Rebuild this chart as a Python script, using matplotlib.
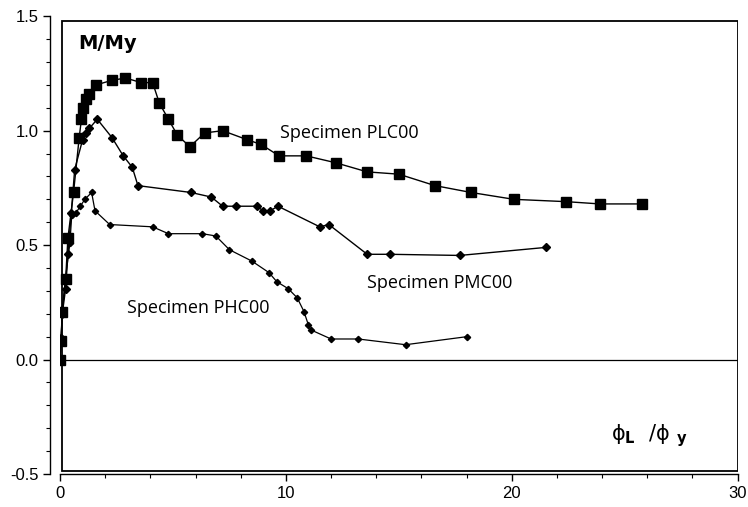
import matplotlib
matplotlib.use("Agg")
import matplotlib.pyplot as plt
from matplotlib.patches import Rectangle
from matplotlib.ticker import MultipleLocator

# Specimen PLC00 (squares)
plc_x = [0.0, 0.05, 0.1, 0.25, 0.35, 0.6, 0.85, 0.95, 1.0, 1.15, 1.3, 1.6, 2.3, 2.9,
         3.6, 4.1, 4.4, 4.8, 5.2, 5.75, 6.4, 7.2, 8.3, 8.9, 9.7, 10.9, 12.2, 13.6,
         15.0, 16.6, 18.2, 20.1, 22.4, 23.9, 25.75]
plc_y = [0.0, 0.08, 0.21, 0.35, 0.53, 0.73, 0.97, 1.05, 1.10, 1.14, 1.16, 1.20, 1.22, 1.23,
         1.21, 1.21, 1.12, 1.05, 0.98, 0.93, 0.99, 1.0, 0.96, 0.94, 0.89, 0.89, 0.86, 0.82,
         0.81, 0.76, 0.73, 0.70, 0.69, 0.68, 0.68]

# Specimen PMC00 (diamonds)
pmc_x = [0.0, 0.05, 0.1, 0.25, 0.35, 0.5, 0.65, 1.0, 1.15, 1.3, 1.65, 2.3, 2.8, 3.2,
         3.45, 5.8, 6.7, 7.2, 7.8, 8.7, 9.0, 9.3, 9.65, 11.5, 11.9, 13.6, 14.6, 17.7, 21.5]
pmc_y = [0.0, 0.08, 0.2, 0.31, 0.46, 0.64, 0.83, 0.96, 0.99, 1.01, 1.05, 0.97, 0.89, 0.84,
         0.76, 0.73, 0.71, 0.67, 0.67, 0.67, 0.65, 0.65, 0.67, 0.58, 0.59, 0.46, 0.46, 0.455, 0.49]

# Specimen PHC00 (small diamonds)
phc_x = [0.0, 0.05, 0.1, 0.25, 0.44, 0.52, 0.7, 0.9, 1.1, 1.4, 1.55, 2.2, 4.1, 4.8,
         6.3, 6.9, 7.5, 8.5, 9.25, 9.6, 10.1, 10.5, 10.8, 11.0, 11.1, 12.0, 13.2, 15.3, 18.0]
phc_y = [0.0, 0.1, 0.22, 0.36, 0.51, 0.63, 0.64, 0.67, 0.70, 0.73, 0.65, 0.59, 0.58, 0.55,
         0.55, 0.54, 0.48, 0.43, 0.38, 0.34, 0.31, 0.27, 0.21, 0.15, 0.13, 0.09, 0.09, 0.065, 0.10]

fig = plt.figure(figsize=(7.48, 5.07), dpi=100)
ax = fig.add_axes([0.0802, 0.065, 0.906, 0.903])

# plot-area frame and zero line
ax.add_patch(Rectangle((0.08, -0.485), 29.92, 1.965, fill=False, lw=1.3, ec="black", zorder=1))
ax.plot([0, 30], [0, 0], color="black", lw=0.9, zorder=1)

ax.plot(plc_x, plc_y, color="black", lw=1.0, marker="s", ms=7, zorder=3)
ax.plot(pmc_x, pmc_y, color="black", lw=1.0, marker="D", ms=4.5, zorder=3)
ax.plot(phc_x, phc_y, color="black", lw=0.9, marker="D", ms=3.2, zorder=3)

ax.set_xlim(0, 30)
ax.set_ylim(-0.5, 1.5)
ax.xaxis.set_major_locator(MultipleLocator(10))
ax.xaxis.set_minor_locator(MultipleLocator(2))
ax.yaxis.set_major_locator(MultipleLocator(0.5))
ax.yaxis.set_minor_locator(MultipleLocator(0.1))
ax.yaxis.set_major_formatter(plt.FuncFormatter(lambda v, p: f"{v:.1f}"))

for s in ["top", "right"]:
    ax.spines[s].set_visible(False)
ax.spines["left"].set_position(("outward", 7))
ax.spines["left"].set_linewidth(1.0)
ax.spines["bottom"].set_linewidth(1.0)
ax.tick_params(which="major", length=5, width=1, labelsize=12, direction="out")
ax.tick_params(which="minor", length=3, width=0.8, direction="out")
for lab in ax.get_xticklabels() + ax.get_yticklabels():
    lab.set_family("Liberation Sans")

txt = dict(fontsize=13, family="Open Sans", ha="center", va="center")
ax.text(12.8, 0.99, "Specimen PLC00", **txt)
ax.text(16.8, 0.335, "Specimen PMC00", **txt)
ax.text(6.1, 0.225, "Specimen PHC00", **txt)
ax.text(0.8, 1.38, "M/My", fontsize=14, fontweight="bold", family="DejaVu Sans",
        ha="left", va="center")
ax.text(26.1, -0.33, "$\\mathrm{ϕ}_{\\mathbf{L}}\\ \\ /\\mathrm{ϕ}\\ _{\\mathbf{y}}$",
        fontsize=15, ha="center", va="center")

fig.savefig("out.png", dpi=100)
